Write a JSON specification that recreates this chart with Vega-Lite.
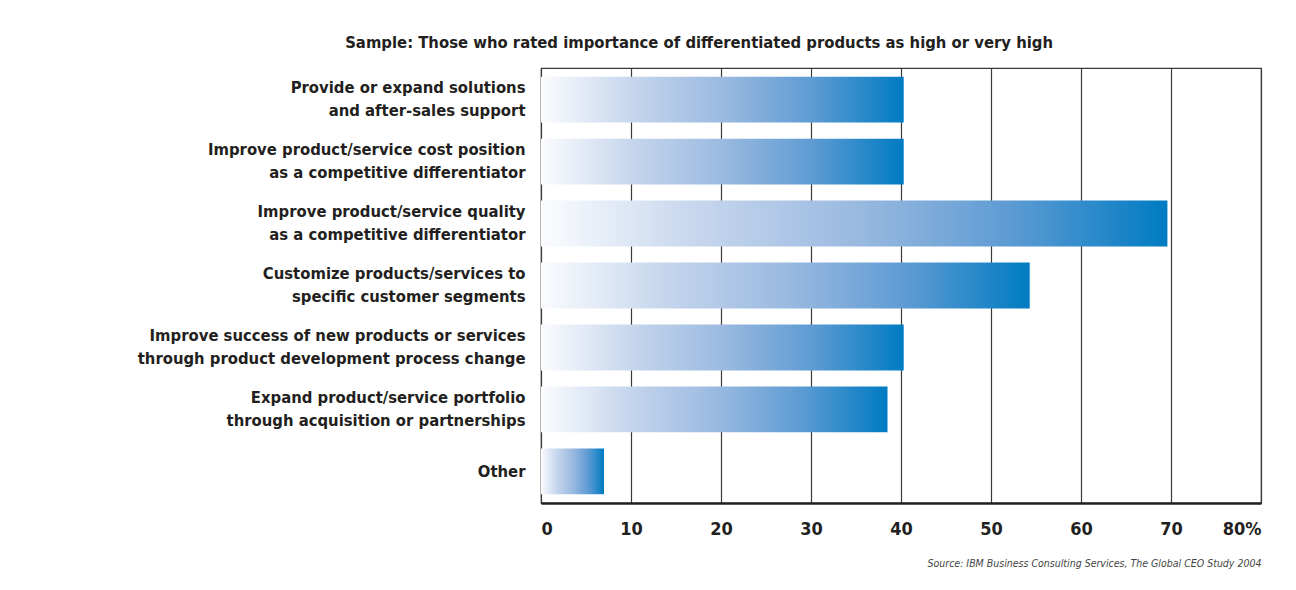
{
  "$schema": "https://vega.github.io/schema/vega-lite/v6.json",
  "width": 720,
  "height": 435,
  "autosize": {"type": "none"},
  "padding": {"left": 541, "top": 68, "right": 35, "bottom": 87},
  "background": "white",
  "title": {
    "text": "Sample: Those who rated importance of differentiated products as high or very high",
    "frame": "bounds",
    "anchor": "middle",
    "font": "Liberation Sans Narrow, DejaVu Sans Condensed, sans-serif",
    "fontSize": 16.5,
    "fontWeight": "bold",
    "color": "#231f20",
    "offset": 17
  },
  "data": {
    "values": [
      {"item": "Provide or expand solutions|and after-sales support", "pct": 40.3},
      {"item": "Improve product/service cost position|as a competitive differentiator", "pct": 40.3},
      {"item": "Improve product/service quality|as a competitive differentiator", "pct": 69.6},
      {"item": "Customize products/services to|specific customer segments", "pct": 54.3},
      {"item": "Improve success of new products or services|through product development process change", "pct": 40.3},
      {"item": "Expand product/service portfolio|through acquisition or partnerships", "pct": 38.5},
      {"item": "Other", "pct": 7.0}
    ]
  },
  "mark": {
    "type": "bar",
    "color": {
      "gradient": "linear",
      "x1": 0, "y1": 0, "x2": 1, "y2": 0,
      "stops": [
        {"offset": 0, "color": "#fbfcfe"},
        {"offset": 0.25, "color": "#c6d6ed"},
        {"offset": 0.5, "color": "#9bbae0"},
        {"offset": 0.75, "color": "#5d9bd3"},
        {"offset": 1, "color": "#007bc2"}
      ]
    }
  },
  "encoding": {
    "y": {
      "field": "item",
      "type": "nominal",
      "sort": null,
      "scale": {"paddingInner": 0.26, "paddingOuter": 0.14},
      "axis": {
        "title": null,
        "ticks": false,
        "domain": false,
        "labelExpr": "split(datum.label, '|')",
        "labelFont": "Liberation Sans Narrow, DejaVu Sans Condensed, sans-serif",
        "labelFontSize": 16.5,
        "labelFontWeight": "bold",
        "labelColor": "#231f20",
        "labelLineHeight": 23,
        "labelOffset": {"condition": {"test": "datum.value == 'Other'", "value": 1}, "value": -11.5},
        "labelPadding": 16,
        "labelLimit": 500
      }
    },
    "x": {
      "field": "pct",
      "type": "quantitative",
      "scale": {"domain": [0, 80], "nice": false},
      "axis": {
        "values": [0, 10, 20, 30, 40, 50, 60, 70, 80],
        "labelExpr": "datum.value == 80 ? '80%' : datum.label",
        "labelFlush": true,
        "ticks": false,
        "grid": true,
        "gridColor": "#3a3a3a",
        "gridWidth": 1.2,
        "domainColor": "#231f20",
        "domainWidth": 2.5,
        "labelFont": "Liberation Sans Narrow, DejaVu Sans Condensed, sans-serif",
        "labelFontSize": 18,
        "labelFontWeight": "bold",
        "labelColor": "#231f20",
        "labelPadding": 17,
        "title": "Source: IBM Business Consulting Services, The Global CEO Study 2004",
        "titleAnchor": "end",
        "titleFont": "Liberation Sans Narrow, DejaVu Sans Condensed, sans-serif",
        "titleFontSize": 10.5,
        "titleFontStyle": "italic",
        "titleFontWeight": "normal",
        "titleColor": "#444444",
        "titlePadding": 20
      }
    }
  },
  "config": {
    "view": {"stroke": "#3a3a3a", "strokeWidth": 1.2}
  }
}
